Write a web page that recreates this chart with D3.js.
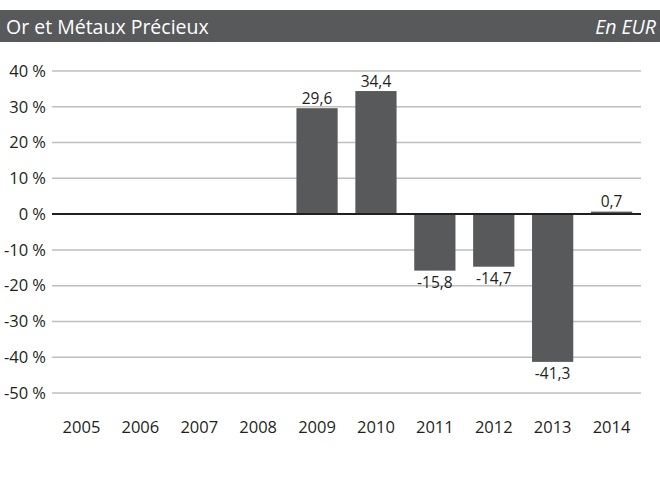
<!DOCTYPE html>
<html>
<head>
<meta charset="utf-8">
<script src="https://cdnjs.cloudflare.com/ajax/libs/d3/7.8.5/d3.min.js"></script>
<style>
  body { margin: 0; background: #fff; }
  svg { display: block; font-family: "Open Sans", sans-serif; }
</style>
</head>
<body>
<div id="chart"></div>
<script>
// data
var years = ["2005", "2006", "2007", "2008", "2009", "2010", "2011", "2012", "2013", "2014"];
var values = [null, null, null, null, 29.6, 34.4, -15.8, -14.7, -41.3, 0.7];
var yTicks = [40, 30, 20, 10, 0, -10, -20, -30, -40, -50];
var title = "Or et Métaux Précieux";
var unit = "En EUR";

var width = 660, height = 478;
var grey = "#58595b";

var svg = d3.select("#chart").append("svg")
    .attr("width", width)
    .attr("height", height);

// header band
svg.append("rect")
    .attr("x", 0).attr("y", 10)
    .attr("width", width).attr("height", 32)
    .attr("fill", grey);
svg.append("text")
    .attr("x", 6).attr("y", 34)
    .attr("fill", "#fff")
    .attr("font-size", 19.5)
    .text(title);
svg.append("text")
    .attr("x", 656).attr("y", 34)
    .attr("fill", "#fff")
    .attr("font-size", 19.5)
    .attr("font-style", "italic")
    .attr("text-anchor", "end")
    .text(unit);

var x = d3.scaleBand()
    .domain(years)
    .range([52, 641])
    .paddingInner(0.3)
    .paddingOuter(0.15);

var y = d3.scaleLinear()
    .domain([-50, 40])
    .range([393, 71]);

// grid lines
svg.append("g").selectAll("line")
    .data(yTicks.filter(function(d) { return d !== 0; }))
  .enter().append("line")
    .attr("x1", 52).attr("x2", 641)
    .attr("y1", function(d) { return y(d); })
    .attr("y2", function(d) { return y(d); })
    .attr("stroke", "#bfbfbf")
    .attr("stroke-width", 1.5);

// y axis labels
var yAxis = d3.axisLeft(y)
    .tickValues(yTicks)
    .tickSize(0)
    .tickPadding(0)
    .tickFormat(function(d) { return d + " %"; });

svg.append("g")
    .attr("transform", "translate(46,0)")
    .call(yAxis)
    .call(function(g) { g.select(".domain").remove(); })
    .selectAll("text")
    .attr("font-family", "Open Sans, sans-serif")
    .attr("font-size", 16.5)
    .attr("fill", "#231f20");

// bars
var data = years.map(function(d, i) { return { year: d, value: values[i] }; })
    .filter(function(d) { return d.value !== null; });

svg.append("g").selectAll("rect")
    .data(data)
  .enter().append("rect")
    .attr("x", function(d) { return x(d.year); })
    .attr("width", x.bandwidth())
    .attr("y", function(d) { return y(Math.max(0, d.value)); })
    .attr("height", function(d) { return Math.abs(y(d.value) - y(0)); })
    .attr("fill", grey);

// value labels
svg.append("g").selectAll("text")
    .data(data)
  .enter().append("text")
    .attr("x", function(d) { return x(d.year) + x.bandwidth() / 2; })
    .attr("y", function(d) { return d.value >= 0 ? y(d.value) - 4.5 : y(d.value) + 17.5; })
    .attr("text-anchor", "middle")
    .attr("font-size", 15.5)
    .attr("fill", "#231f20")
    .text(function(d) { return String(d.value).replace(".", ","); });

// zero line
svg.append("line")
    .attr("x1", 52).attr("x2", 641)
    .attr("y1", y(0)).attr("y2", y(0))
    .attr("stroke", "#231f20")
    .attr("stroke-width", 2);

// x axis labels
var xAxis = d3.axisBottom(x).tickSize(0).tickPadding(0);
svg.append("g")
    .attr("transform", "translate(0,421)")
    .call(xAxis)
    .call(function(g) { g.select(".domain").remove(); })
    .selectAll("text")
    .attr("font-family", "Open Sans, sans-serif")
    .attr("font-size", 16.5)
    .attr("fill", "#231f20");
</script>
</body>
</html>
